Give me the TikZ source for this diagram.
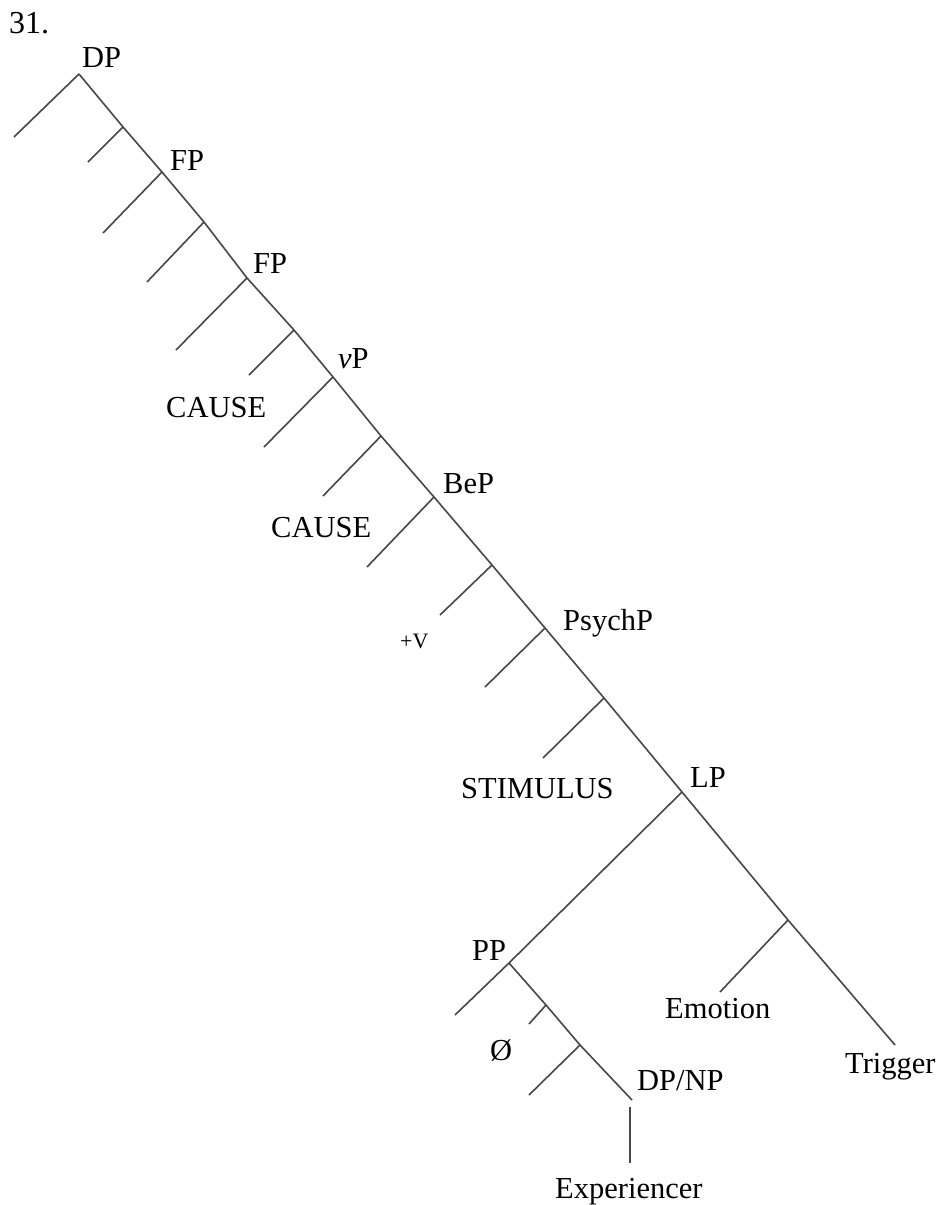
\documentclass[tikz,border=0pt]{standalone}
\usepackage{fontspec}
\setmainfont{Liberation Serif}
\begin{document}
\begin{tikzpicture}[x=1pt,y=-1pt,
  br/.style={draw=black!72,line width=1.6pt},
  lab/.style={anchor=base west,inner sep=0pt,font=\fontsize{30.5}{33}\selectfont},
  smalllab/.style={anchor=base west,inner sep=0pt,font=\fontsize{22}{24}\selectfont}]
\useasboundingbox[fill=white] (0,0) rectangle (942,1205);
% junctions
\coordinate (dp) at (79,74);   \coordinate (dpL) at (14,137);
\coordinate (a1) at (123,127); \coordinate (a1L) at (88,162);
\coordinate (fp1) at (162,172);\coordinate (fp1L) at (103,233);
\coordinate (a2) at (204,222); \coordinate (a2L) at (147,282);
\coordinate (fp2) at (247,278);\coordinate (fp2L) at (176,350);
\coordinate (a3) at (294,330); \coordinate (a3L) at (249,375);
\coordinate (vp) at (333,377); \coordinate (vpL) at (264,447);
\coordinate (a4) at (381,436); \coordinate (a4L) at (323,496);
\coordinate (bep) at (434,497);\coordinate (bepL) at (367,567);
\coordinate (a5) at (492,565); \coordinate (a5L) at (440,615);
\coordinate (psy) at (545,628);\coordinate (psyL) at (485,687);
\coordinate (a6) at (604,698); \coordinate (a6L) at (543,758);
\coordinate (lp) at (682,792);
\coordinate (c1) at (788,920); \coordinate (c1L) at (720,992);
\coordinate (trig) at (895,1045);
\coordinate (pp) at (509,963); \coordinate (ppL) at (455,1015);
\coordinate (b1) at (546,1005);\coordinate (b1L) at (529,1024);
\coordinate (b2) at (580,1045);\coordinate (b2L) at (529,1095);
\coordinate (dpnp) at (632,1100);
\coordinate (vt) at (630,1107);\coordinate (vb) at (630,1163);
% spine
\draw[br] (dp) -- (a1) -- (fp1) -- (a2) -- (fp2) -- (a3) -- (vp) -- (a4) -- (bep) -- (a5) -- (psy) -- (a6) -- (lp) -- (c1) -- (trig);
% left branches
\draw[br] (dp) -- (dpL);
\draw[br] (a1) -- (a1L);
\draw[br] (fp1) -- (fp1L);
\draw[br] (a2) -- (a2L);
\draw[br] (fp2) -- (fp2L);
\draw[br] (a3) -- (a3L);
\draw[br] (vp) -- (vpL);
\draw[br] (a4) -- (a4L);
\draw[br] (bep) -- (bepL);
\draw[br] (a5) -- (a5L);
\draw[br] (psy) -- (psyL);
\draw[br] (a6) -- (a6L);
\draw[br] (lp) -- (pp) -- (ppL);
\draw[br] (c1) -- (c1L);
\draw[br] (pp) -- (b1) -- (b2) -- (dpnp);
\draw[br] (b1) -- (b1L);
\draw[br] (b2) -- (b2L);
\draw[br] (vt) -- (vb);
% labels
\node[anchor=base west,inner sep=0pt,font=\fontsize{32}{35}\selectfont] (num) at (9,33) {31.};
\node[lab] (tDP) at (82,67) {DP};
\node[lab] (tFP1) at (170,170) {FP};
\node[lab] (tFP2) at (253,273) {FP};
\node[lab] (tvP) at (338,368) {\textit{v}P};
\node[lab] (tC1) at (166,417) {CAUSE};
\node[lab] (tC2) at (271,537) {CAUSE};
\node[lab] (tBeP) at (443,493) {BeP};
\node[smalllab] (tV) at (400,648) {+V};
\node[lab] (tPsy) at (563,630) {PsychP};
\node[lab] (tSt) at (461,798) {STIMULUS};
\node[lab] (tLP) at (690,787) {LP};
\node[lab] (tPP) at (472,960) {PP};
\node[lab] (tEm) at (665,1018) {Emotion};
\node[lab] (tTr) at (845,1073) {Trigger};
\node[lab] (tO) at (490,1060) {Ø};
\node[lab] (tDN) at (637,1090) {DP/NP};
\node[lab] (tEx) at (555,1198) {Experiencer};
\end{tikzpicture}
\end{document}
